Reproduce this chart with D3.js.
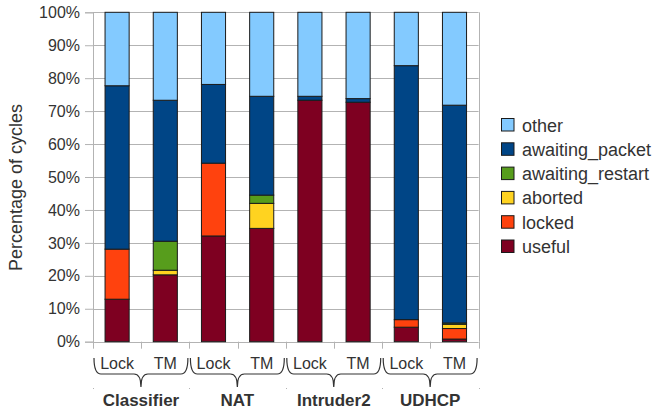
<!DOCTYPE html>
<html>
<head>
<meta charset="utf-8">
<script src="https://cdn.jsdelivr.net/npm/d3@7"></script>
<style>
  body { margin: 0; background: #fff; }
  svg { display: block; font-family: "Liberation Sans", Arial, sans-serif; }
</style>
</head>
<body>
<svg id="chart" width="655" height="412"></svg>
<script>
// ---- data ----
const groups = ["Classifier", "NAT", "Intruder2", "UDHCP"];
const methods = ["Lock", "TM"];
const seriesNames = ["useful", "locked", "aborted", "awaiting_restart", "awaiting_packet", "other"];
const seriesColors = ["#7E0021", "#FF420E", "#FFD320", "#579D1C", "#004586", "#83CAFF"];
// values per bar in order: Classifier Lock, Classifier TM, NAT Lock, NAT TM, Intruder2 Lock, Intruder2 TM, UDHCP Lock, UDHCP TM
const useful          = [12.9, 20.3, 32.1, 34.4, 73.3, 72.7, 4.4, 0.8];
const locked          = [15.2, 0.0, 22.1, 0.0, 0.0, 0.0, 2.3, 3.2];
const aborted         = [0.0, 1.4, 0.0, 7.6, 0.0, 0.0, 0.0, 1.3];
const awaitingRestart = [0.0, 8.8, 0.0, 2.5, 0.0, 0.0, 0.0, 0.4];
const awaitingPacket  = [49.6, 42.8, 23.9, 30.0, 1.2, 1.1, 77.1, 66.1];
const other           = [22.3, 26.7, 21.9, 25.5, 25.5, 26.2, 16.2, 28.2];
const yTicks = [0, 10, 20, 30, 40, 50, 60, 70, 80, 90, 100];
const yTitle = "Percentage of cycles";

(function () {
// ---- build table ----
const seriesValues = [useful, locked, aborted, awaitingRestart, awaitingPacket, other];
const bars = [];
groups.forEach(g => methods.forEach(m => bars.push({ group: g, method: m, key: g + "|" + m })));
bars.forEach((b, i) => seriesNames.forEach((s, j) => b[s] = seriesValues[j][i]));

const svg = d3.select("#chart");
const pLeft = 93, pRight = 478.6, pTop = 12.3, pBottom = 341.7;
const textColor = "#333333", gridColor = "#b3b3b3";

const x = d3.scaleBand().domain(bars.map(b => b.key)).range([pLeft, pRight]).paddingInner(0.5).paddingOuter(0.25);
const y = d3.scaleLinear().domain([0, 100]).range([pBottom, pTop]);
const color = d3.scaleOrdinal().domain(seriesNames).range(seriesColors);

// grid
svg.append("g").selectAll("line").data(yTicks).join("line")
  .attr("x1", pLeft).attr("x2", pRight)
  .attr("y1", d => Math.round(y(d)) + 0.5).attr("y2", d => Math.round(y(d)) + 0.5)
  .attr("stroke", gridColor).attr("stroke-width", 1);
// right border
svg.append("line").attr("x1", Math.round(pRight) + 0.5).attr("x2", Math.round(pRight) + 0.5)
  .attr("y1", y(100)).attr("y2", y(0)).attr("stroke", gridColor);

// y axis
const yAxis = svg.append("g").attr("transform", `translate(${pLeft},0)`)
  .call(d3.axisLeft(y).tickValues(yTicks).tickFormat(d => d + "%").tickSize(8).tickPadding(5));
yAxis.selectAll("path, line").attr("stroke", gridColor);
yAxis.selectAll("text").attr("fill", textColor).style("font-size", "16px").style("font-family", "Liberation Sans, Arial, sans-serif");

// bottom ticks at slot boundaries
const step = x.step();
const boundaries = bars.map(b => x(b.key) - (step - x.bandwidth()) / 2).concat([pRight]);
svg.append("g").selectAll("line").data(boundaries).join("line")
  .attr("x1", d => Math.round(d) + 0.5).attr("x2", d => Math.round(d) + 0.5)
  .attr("y1", pBottom).attr("y2", pBottom + 7).attr("stroke", gridColor);

// stacked bars
const stack = d3.stack().keys(seriesNames)(bars);
svg.append("g").selectAll("g").data(stack).join("g")
  .attr("fill", d => color(d.key))
  .selectAll("rect").data(d => d.filter(p => p[1] - p[0] > 0)).join("rect")
  .attr("x", d => x(d.data.key))
  .attr("width", x.bandwidth())
  .attr("y", d => y(d[1]))
  .attr("height", d => y(d[0]) - y(d[1]))
  .attr("stroke", "#1a1a1a").attr("stroke-width", 1);

// method labels
svg.append("g").selectAll("text").data(bars).join("text")
  .attr("x", d => x(d.key) + x.bandwidth() / 2)
  .attr("y", 368.5)
  .attr("text-anchor", "middle").attr("fill", textColor).style("font-size", "16px")
  .text(d => d.method);

// braces + group labels
groups.forEach((g, gi) => {
  const x0 = boundaries[gi * 2] + 1, x1 = boundaries[gi * 2 + 2] - 1.5;
  const cx = (x0 + x1) / 2;
  const yt = 358, yh = 374, yp = 387;
  const p = `M${x0},${yt} Q${x0},${yh} ${x0 + 7},${yh} L${cx - 7},${yh} Q${cx},${yh} ${cx},${yp} Q${cx},${yh} ${cx + 7},${yh} L${x1 - 7},${yh} Q${x1},${yh} ${x1},${yt}`;
  svg.append("path").attr("d", p).attr("fill", "none").attr("stroke", textColor).attr("stroke-width", 1.2);
  svg.append("text").attr("x", cx).attr("y", 406).attr("text-anchor", "middle")
    .attr("fill", textColor).style("font-size", "17px").style("font-weight", "bold").text(g);
});
// tiny group separator dots
svg.append("g").selectAll("rect").data(groups.map((g, i) => boundaries[i * 2]).concat([boundaries[8]])).join("rect")
  .attr("x", d => Math.round(d)).attr("y", 388).attr("width", 1).attr("height", 1).attr("fill", gridColor);

// y title
svg.append("text").attr("transform", "translate(21.5,187.5) rotate(-90)")
  .attr("text-anchor", "middle").attr("fill", textColor).style("font-size", "18px").text(yTitle);

// legend
const legendOrder = seriesNames.slice().reverse();
const lg = svg.append("g").selectAll("g").data(legendOrder).join("g")
  .attr("transform", (d, i) => `translate(501,${125 + i * 24.3})`);
lg.append("rect").attr("x", 0.5).attr("y", -6.5).attr("width", 12.5).attr("height", 12.5)
  .attr("fill", d => color(d)).attr("stroke", "#1a1a1a").attr("stroke-width", 1);
lg.append("text").attr("x", 21).attr("y", 6.5).attr("fill", textColor).style("font-size", "18px").text(d => d);
})();
</script>
</body>
</html>
